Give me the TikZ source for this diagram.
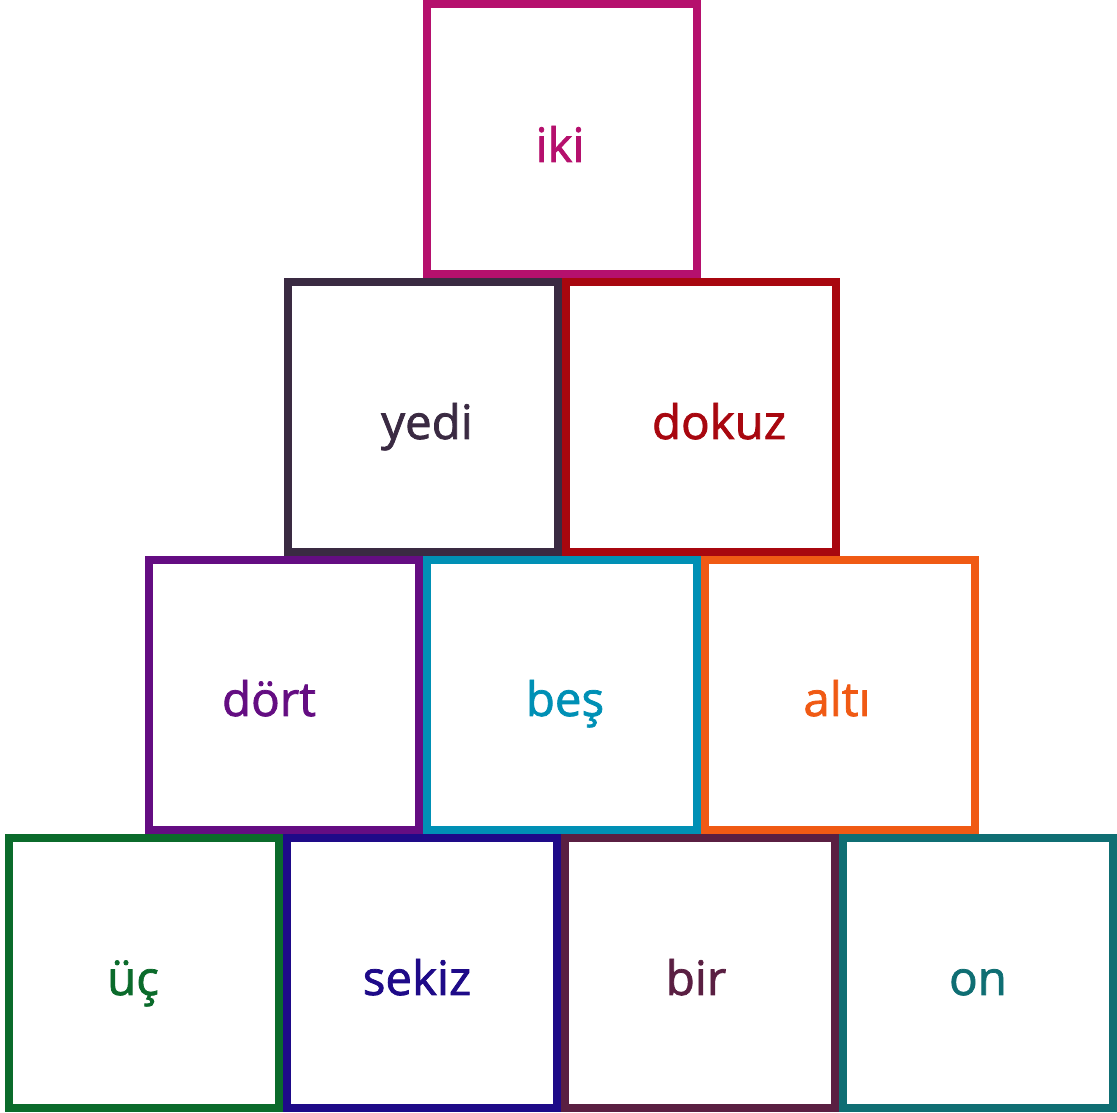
\documentclass[tikz,border=0pt]{standalone}
\usepackage{fontspec}
\setmainfont{Open Sans}[FakeBold=1.6]

\definecolor{ikicol}{HTML}{B5106D}
\definecolor{yedicol}{HTML}{3A2A42}
\definecolor{dokuzcol}{HTML}{A8070F}
\definecolor{dortcol}{HTML}{640D82}
\definecolor{bescol}{HTML}{0090B5}
\definecolor{alticol}{HTML}{F05A14}
\definecolor{uccol}{HTML}{0B6B2B}
\definecolor{sekizcol}{HTML}{1E0A88}
\definecolor{bircol}{HTML}{5A1F42}
\definecolor{oncol}{HTML}{0F6E73}

\begin{document}
\begin{tikzpicture}[
        block/.style={draw, rectangle, line width=0.16cm, minimum size=5.4cm, inner sep=0pt},
        word/.style={anchor=base, font=\fontsize{27}{32}\selectfont}
    ]
        \useasboundingbox (0,0) rectangle (22.34,22.26);

        % top row
        \node[block, ikicol] (iki) at (11.24,19.48) {};
        % second row
        \node[block, yedicol] (yedi) at (8.46,13.92) {};
        \node[block, dokuzcol] (dokuz) at (14.02,13.92) {};
        % third row
        \node[block, dortcol] (dort) at (5.68,8.36) {};
        \node[block, bescol] (bes) at (11.24,8.36) {};
        \node[block, alticol] (alti) at (16.80,8.36) {};
        % bottom row
        \node[block, uccol] (uc) at (2.88,2.80) {};
        \node[block, sekizcol] (sekiz) at (8.44,2.80) {};
        \node[block, bircol] (bir) at (14.00,2.80) {};
        \node[block, oncol] (on) at (19.56,2.80) {};

        % labels
        \node[word, text=ikicol, xshift=-0.04cm, yshift=-0.46cm] (ikiT) at (iki) {iki};
        \node[word, text=yedicol, xshift=0.08cm, yshift=-0.44cm] (yediT) at (yedi) {yedi};
        \node[word, text=dokuzcol, xshift=0.36cm, yshift=-0.44cm] (dokuzT) at (dokuz) {dokuz};
        \node[word, text=dortcol, xshift=-0.30cm, yshift=-0.42cm] (dortT) at (dort) {dört};
        \node[word, text=bescol, xshift=0.06cm, yshift=-0.42cm] (besT) at (bes) {beş};
        \node[word, text=alticol, xshift=-0.06cm, yshift=-0.42cm] (altiT) at (alti) {altı};
        \node[word, text=uccol, xshift=-0.22cm, yshift=-0.44cm] (ucT) at (uc) {üç};
        \node[word, text=sekizcol, xshift=-0.10cm, yshift=-0.44cm] (sekizT) at (sekiz) {sekiz};
        \node[word, text=bircol, xshift=-0.08cm, yshift=-0.44cm] (birT) at (bir) {bir};
        \node[word, text=oncol, xshift=0cm, yshift=-0.44cm] (onT) at (on) {on};
    \end{tikzpicture}
\end{document}
